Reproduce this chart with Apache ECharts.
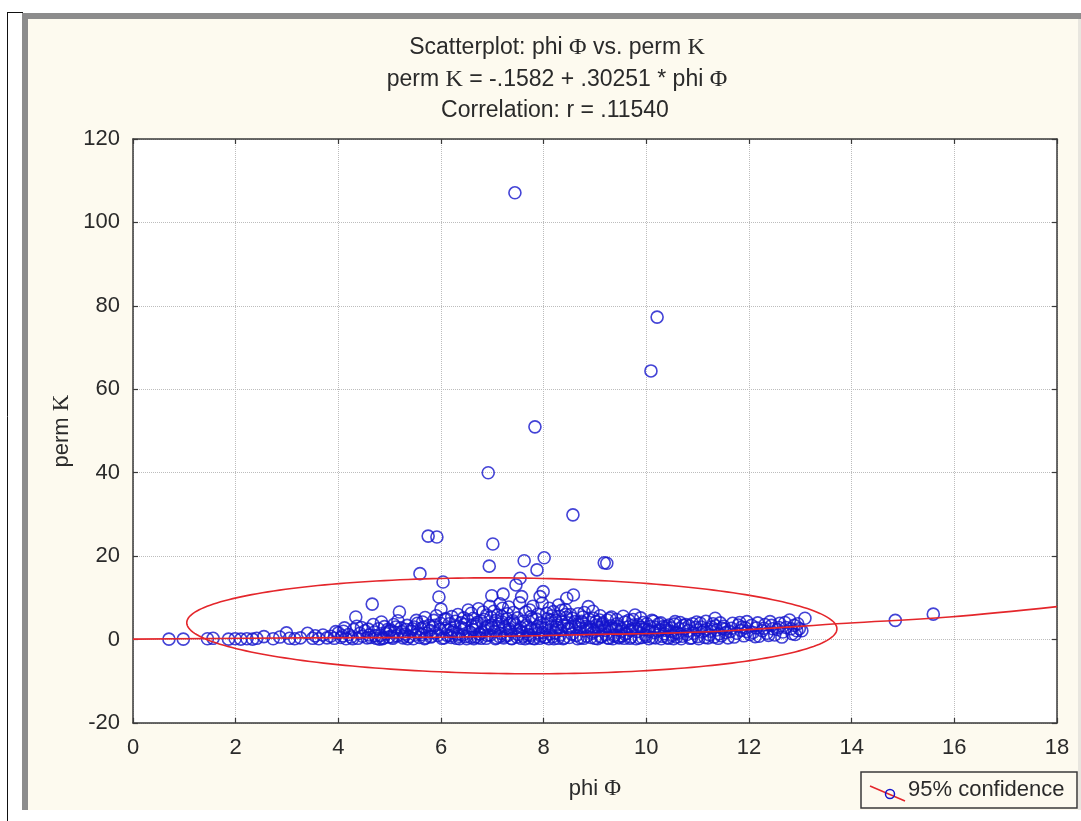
<!DOCTYPE html>
<html><head><meta charset="utf-8">
<script src="https://cdn.jsdelivr.net/npm/echarts/dist/echarts.min.js"></script>
<style>html,body{margin:0;padding:0;background:#fff;}#c{width:1081px;height:821px;}</style>
</head><body><div id="c"></div>
<script>
// ---- data ----
var xTicks = [0, 2, 4, 6, 8, 10, 12, 14, 16, 18];
var yTicks = [-20, 0, 20, 40, 60, 80, 100, 120];
var phi = [
 0.70,0.98,1.45,1.56,1.86,1.99,2.10,2.22,2.33,2.41,2.55,2.73,2.86,2.99,3.05,3.15,3.26,3.40,3.50,3.55,
 3.62,3.70,3.78,3.85,3.92,4.00,4.05,4.10,4.15,4.20,4.25,4.30,4.34,4.38,4.42,4.47,4.52,4.56,4.60,3.95,4.08,4.28,4.45,
 4.63,4.66,4.70,4.74,4.78,4.82,4.86,4.90,4.94,4.98,5.02,5.06,5.10,5.14,5.19,5.22,5.26,5.30,5.34,5.38,5.42,5.46,5.50,5.54,5.58,4.72,4.88,5.00,5.12,5.28,5.44,5.56,4.80,5.05,5.35,
 5.59,5.62,5.66,5.70,5.75,5.78,5.82,5.86,5.90,5.92,5.96,6.00,6.02,6.04,6.08,6.12,6.16,6.20,6.24,6.28,6.32,6.36,6.40,6.44,6.48,6.53,6.56,6.60,5.68,5.80,5.94,6.06,6.18,6.30,6.42,6.50,5.64,5.88,6.10,6.34,5.72,5.98,6.22,6.46,6.58,
 6.62,6.66,6.70,6.74,6.78,6.82,6.86,6.90,6.92,6.94,6.97,6.99,7.01,7.04,7.08,7.12,7.16,7.21,7.25,7.29,7.33,7.37,7.40,7.44,7.46,7.50,7.54,7.57,6.64,6.72,6.80,6.88,6.96,7.06,7.14,7.22,7.30,7.38,7.48,7.56,6.68,6.84,7.00,7.18,7.34,7.52,6.76,6.92,7.10,7.26,7.42,7.58,6.95,7.20,
 7.60,7.62,7.66,7.70,7.73,7.76,7.80,7.83,7.86,7.87,7.90,7.93,7.96,7.99,8.01,8.04,8.08,8.12,8.16,8.20,8.24,8.29,8.32,8.36,8.40,8.45,8.48,8.52,8.55,8.57,8.58,8.61,7.64,7.72,7.82,7.92,8.02,8.10,8.18,8.28,8.38,8.50,7.68,7.78,7.88,7.98,8.06,8.14,8.26,8.34,8.44,8.54,7.74,7.95,8.22,8.42,
 8.64,8.68,8.72,8.76,8.80,8.84,8.87,8.90,8.94,8.97,9.00,9.03,9.07,9.11,9.15,9.18,9.21,9.23,9.27,9.29,9.33,9.37,9.39,9.43,9.47,9.51,9.55,9.59,8.66,8.78,8.92,9.05,9.13,9.25,9.35,9.45,9.57,8.74,8.86,8.98,9.09,9.19,9.31,9.41,9.53,
 9.62,9.66,9.70,9.75,9.78,9.82,9.86,9.90,9.94,9.98,10.00,10.03,10.07,10.09,10.12,10.16,10.21,10.24,10.27,10.31,10.35,10.39,10.43,10.47,10.51,10.55,10.59,9.68,9.80,9.92,10.05,10.18,10.29,10.41,10.53,9.72,9.88,10.14,10.37,10.57,
 10.62,10.66,10.70,10.74,10.79,10.83,10.88,10.92,10.96,11.00,11.05,11.09,11.14,11.18,11.23,11.27,11.32,11.34,11.37,11.42,11.46,11.51,11.55,11.59,10.68,10.85,11.02,11.20,11.40,10.77,10.98,11.12,11.30,11.48,
 11.63,11.66,11.71,11.76,11.79,11.84,11.90,11.96,11.96,12.02,12.08,12.14,12.20,12.26,12.31,12.35,12.41,12.46,12.50,12.55,12.60,12.66,12.72,12.79,12.84,12.88,12.93,12.98,13.03,13.09,11.86,12.12,12.38,12.64,12.90,
 14.85,15.59,
 4.12,4.36,4.58,4.68,4.84,4.96,5.08,5.16,5.24,5.32,5.48,5.52,
 5.61,5.69,5.77,5.84,5.91,5.99,6.07,6.14,6.21,6.27,6.33,6.39,6.45,6.52,6.59,
 6.63,6.69,6.73,6.79,6.85,6.89,6.98,7.03,7.07,7.11,7.15,7.19,7.24,7.28,7.32,7.36,7.41,7.45,7.49,7.53,7.55,
 7.61,7.65,7.69,7.75,7.79,7.84,7.89,7.94,7.97,8.03,8.07,8.11,8.15,8.19,8.23,8.27,8.31,8.35,8.39,8.43,8.47,8.51,8.56,
 8.62,8.67,8.71,8.75,8.79,8.83,8.88,8.93,8.96,9.02,9.06,9.10,9.14,9.20,9.24,9.28,9.32,9.38,9.42,9.46,9.52,9.58,
 9.64,9.69,9.74,9.79,9.84,9.89,9.95,10.01,10.06,10.11,10.17,10.22,10.28,10.33,10.38,10.44,10.49,10.56,
 10.64,10.72,10.81,10.90,10.99,11.07,11.16,11.25,11.35,11.44,11.53,
 11.68,11.82,11.93,12.05,12.17,12.29,12.44,12.58,12.70,12.82,12.95
];
var perm = [
 0.1,0.1,0.2,0.3,0.1,0.2,0.1,0.2,0.1,0.3,0.7,0.2,0.6,1.6,0.3,0.2,0.4,1.5,0.3,0.9,
 0.2,1.1,0.4,0.8,0.3,1.6,0.5,2.0,0.2,1.2,0.6,2.4,5.4,0.3,1.5,0.8,2.1,0.4,1.1,1.9,0.9,0.2,2.9,
 0.5,8.5,1.8,0.3,2.6,1.0,0.2,3.1,1.4,0.6,2.2,0.3,1.7,0.9,6.6,2.8,0.4,1.3,3.4,0.7,2.0,0.2,1.1,3.9,0.5,0.9,0.4,1.9,3.0,0.8,2.6,1.5,0.1,0.6,0.2,
 15.8,1.2,3.0,0.4,24.8,2.2,0.8,4.6,1.6,24.6,10.2,7.3,0.3,13.8,2.7,1.0,3.8,0.5,2.1,4.4,1.3,0.2,2.9,5.2,0.7,7.1,1.8,3.3,0.2,0.6,1.0,0.4,0.9,0.3,1.1,0.2,4.2,3.4,5.0,0.8,1.5,2.5,1.7,3.6,0.5,
 2.4,0.6,4.1,1.3,0.3,6.6,2.8,1.0,40.0,17.6,5.4,10.5,22.9,2.0,0.4,3.7,1.5,10.9,0.8,6.2,2.5,0.3,4.5,107.1,13.1,1.2,14.7,10.3,0.2,0.5,1.8,0.3,1.1,0.2,0.7,0.4,1.0,0.2,0.6,0.3,3.2,4.8,2.9,5.6,3.9,2.2,1.4,3.3,5.9,2.6,4.0,1.8,8.0,7.5,
 0.8,18.9,3.4,1.2,7.1,2.6,0.3,51.0,4.9,16.7,1.6,10.3,2.9,11.5,19.6,0.6,3.8,1.4,5.7,0.2,2.4,8.3,1.1,4.2,0.4,9.9,2.7,6.0,1.3,29.9,10.7,4.3,0.2,0.4,0.2,0.3,0.5,0.2,0.7,0.3,0.2,0.5,2.0,5.0,3.1,1.7,6.3,4.6,3.5,2.2,5.3,3.0,1.0,0.9,1.6,7.2,
 1.0,3.6,0.4,5.4,2.1,0.8,7.9,3.0,1.5,5.1,0.3,3.5,2.3,0.6,4.0,18.4,1.2,18.3,0.3,5.1,2.7,0.9,1.1,3.8,0.4,2.0,5.6,1.3,0.2,0.3,0.5,0.2,0.7,0.4,0.2,0.6,0.3,4.4,2.5,1.9,4.7,2.8,3.3,2.6,0.9,
 1.5,4.6,0.6,3.5,5.9,1.9,0.4,2.9,4.1,1.1,0.7,2.4,3.1,64.4,0.5,1.7,77.3,3.8,2.3,0.8,1.4,3.2,0.3,2.0,1.0,3.7,0.6,0.3,0.2,0.5,0.2,0.4,0.2,0.5,0.2,2.6,3.0,4.4,2.7,1.6,
 1.5,4.1,0.8,2.6,1.2,3.3,0.4,1.5,2.9,0.7,3.9,1.8,0.5,2.5,1.1,3.0,0.6,5.1,2.3,1.4,0.9,3.2,1.7,0.4,0.2,0.3,0.2,0.4,0.3,3.6,4.2,2.1,3.8,2.7,
 1.9,2.7,0.6,1.5,3.5,2.2,0.9,4.3,1.9,1.2,1.7,2.8,0.8,2.1,3.6,1.5,4.3,2.6,1.1,2.4,3.9,1.8,2.9,4.7,1.4,3.4,2.1,2.6,2.1,5.1,3.0,0.7,1.0,0.6,1.2,
 4.6,6.1,
 2.8,3.2,2.5,3.6,4.2,2.4,3.6,4.5,1.9,2.4,3.0,4.6,
 2.6,5.3,3.4,2.9,5.7,3.9,4.9,2.3,5.5,3.0,6.0,4.0,2.6,4.7,6.3,
 5.1,3.6,7.4,4.4,2.3,5.9,3.4,6.8,4.6,2.7,8.6,4.2,3.1,5.0,7.8,2.0,6.5,3.5,5.2,8.8,2.9,
 4.4,6.6,3.0,5.5,8.0,2.5,6.1,4.0,8.7,2.7,5.0,7.5,3.2,6.7,4.6,2.9,5.6,7.0,3.4,6.0,4.0,2.6,5.1,
 3.1,6.2,2.6,4.1,6.5,3.2,4.9,2.4,6.8,4.3,2.9,5.7,3.6,2.2,4.7,3.0,5.4,2.5,4.8,3.1,2.6,4.2,
 3.0,2.2,4.8,2.6,3.6,5.2,2.4,3.8,2.0,4.6,3.0,2.1,4.0,3.1,2.2,3.5,2.8,4.3,
 2.6,3.4,2.1,3.8,2.3,3.0,4.4,2.0,3.3,4.0,2.5,
 3.9,4.1,2.8,3.4,4.0,2.7,3.4,2.9,4.1,2.6,3.8
];
// fitted red line as drawn in the reference
var lineX = [0, 3.3, 6.4, 9.3, 10.3, 11.6, 13.9, 15.9, 18];
var lineY = [0.1, 0.4, 0.6, 1.3, 1.5, 2.1, 3.9, 5.4, 7.9];
// 95% confidence ellipse parameters (data units)
var ellCx = 7.38, ellCy = 3.3, ellA = 6.32, ellB = 11.5, ellD = -0.4;

var titleLines = ['Scatterplot: phi {s|Φ} vs. perm {s|K}', 'perm {s|K} = -.1582 + .30251 * phi {s|Φ}', 'Correlation: r = .11540'];
var xName = 'phi {s|Φ}', yName = 'perm {s|K}', legendText = '95% confidence';

// ---- chart ----
var FS = 22, TFS = 23, SANS = 'Liberation Sans, Arial, sans-serif', SERIF = 'Liberation Serif, serif';
var TXT = '#2a2a2a', BLUE = '#1414cc', RED = '#e4262b', CREAM = '#fdfaef';
function richFor(sz) { return {s: {fontFamily: SERIF, fontSize: sz + 1, fill: TXT, color: TXT}}; }
var pts = phi.map(function (v, i) { return [v, perm[i]]; });
var linePts = lineX.map(function (v, i) { return [v, lineY[i]]; });

function axisCommon(o) {
  return Object.assign({
    type: 'value', axisLine: {show: true, onZero: false, lineStyle: {color: '#3a3a3a', width: 1.5}},
    axisTick: {show: true, inside: true, length: 5, lineStyle: {color: '#3a3a3a', width: 1.2}},
    axisLabel: {fontSize: FS, fontFamily: SANS, color: TXT},
    splitLine: {show: false}
  }, o);
}

var option = {
  backgroundColor: '#ffffff',
  animation: false,
  grid: {left: 133, top: 139, right: 24, bottom: 98, show: true, backgroundColor: '#ffffff', borderWidth: 0},
  xAxis: [
    axisCommon({min: 0, max: 18, interval: 2, position: 'bottom',
      axisLabel: {fontSize: FS, fontFamily: SANS, color: TXT, margin: 14},
      splitLine: {show: true, lineStyle: {type: 'dotted', color: '#bdbdbd', width: 1}}}),
    axisCommon({min: 0, max: 18, interval: 2, position: 'top', axisLabel: {show: false}})
  ],
  yAxis: [
    axisCommon({min: -20, max: 120, interval: 20, position: 'left',
      axisLabel: {fontSize: FS, fontFamily: SANS, color: TXT, margin: 13},
      splitLine: {show: true, lineStyle: {type: 'dotted', color: '#bdbdbd', width: 1}}}),
    axisCommon({min: -20, max: 120, interval: 20, position: 'right', axisLabel: {show: false}})
  ],
  series: [
    {type: 'scatter', data: pts, symbol: 'circle', symbolSize: 12, z: 2,
     itemStyle: {color: 'rgba(0,0,0,0)', borderColor: BLUE, borderWidth: 1.6}, emphasis: {disabled: true}},
    {type: 'line', data: linePts, smooth: 0.4, showSymbol: false, z: 3,
     lineStyle: {color: RED, width: 1.6}},
    {type: 'custom', data: [[ellCx, ellCy]], encode: {x: 0, y: 1}, z: 3, silent: true,
     renderItem: function (params, api) {
       var p = [];
       for (var i = 0; i <= 240; i++) {
         var t = i / 240 * 2 * Math.PI;
         p.push(api.coord([ellCx + ellA * Math.cos(t) + ellD * Math.sin(t), ellCy + ellB * Math.sin(t)]));
       }
       return {type: 'polyline', shape: {points: p}, style: {stroke: RED, fill: null, lineWidth: 1.6}};
     }}
  ],
  graphic: [
    // window frame
    {type: 'rect', z: -100, shape: {x: 22, y: 13, width: 1059, height: 797}, style: {fill: '#8c8c8c'}},
    {type: 'rect', z: -99, shape: {x: 28, y: 19, width: 1050, height: 791}, style: {fill: CREAM}},
    {type: 'rect', z: -99, shape: {x: 1078, y: 19, width: 3, height: 791}, style: {fill: '#e8e6df'}},
    {type: 'line', z: -98, shape: {x1: 7.5, y1: 12, x2: 7.5, y2: 821}, style: {stroke: '#111', lineWidth: 1}},
    {type: 'line', z: -98, shape: {x1: 7, y1: 12.5, x2: 23, y2: 12.5}, style: {stroke: '#111', lineWidth: 1}},
    // titles
    {type: 'text', z: 100, x: 557, y: 48, style: {text: titleLines[0], rich: richFor(TFS), font: TFS + 'px ' + SANS, fill: TXT, align: 'center', verticalAlign: 'middle'}},
    {type: 'text', z: 100, x: 557, y: 80, style: {text: titleLines[1], rich: richFor(TFS), font: TFS + 'px ' + SANS, fill: TXT, align: 'center', verticalAlign: 'middle'}},
    {type: 'text', z: 100, x: 555, y: 111, style: {text: titleLines[2], rich: richFor(TFS), font: TFS + 'px ' + SANS, fill: TXT, align: 'center', verticalAlign: 'middle'}},
    // axis names
    {type: 'text', z: 100, x: 595, y: 789, style: {text: xName, rich: richFor(FS), font: FS + 'px ' + SANS, fill: TXT, align: 'center', verticalAlign: 'middle'}},
    {type: 'text', z: 100, x: 62, y: 431, rotation: Math.PI / 2, style: {text: yName, rich: richFor(FS), font: FS + 'px ' + SANS, fill: TXT, align: 'center', verticalAlign: 'middle'}},
    // legend
    {type: 'rect', z: 100, shape: {x: 861, y: 772, width: 216, height: 36}, style: {fill: CREAM, stroke: '#3a3a3a', lineWidth: 1.5}},
    {type: 'line', z: 101, shape: {x1: 870, y1: 786, x2: 905, y2: 801}, style: {stroke: RED, lineWidth: 1.5}},
    {type: 'circle', z: 102, shape: {cx: 890, cy: 794, r: 4.5}, style: {fill: 'rgba(0,0,0,0)', stroke: BLUE, lineWidth: 1.5}},
    {type: 'text', z: 101, x: 908, y: 790, style: {text: legendText, font: FS + 'px ' + SANS, fill: TXT, align: 'left', verticalAlign: 'middle'}}
  ]
};
var chart = echarts.init(document.getElementById('c'), null, {renderer: 'canvas'});
chart.setOption(option);
</script></body></html>
